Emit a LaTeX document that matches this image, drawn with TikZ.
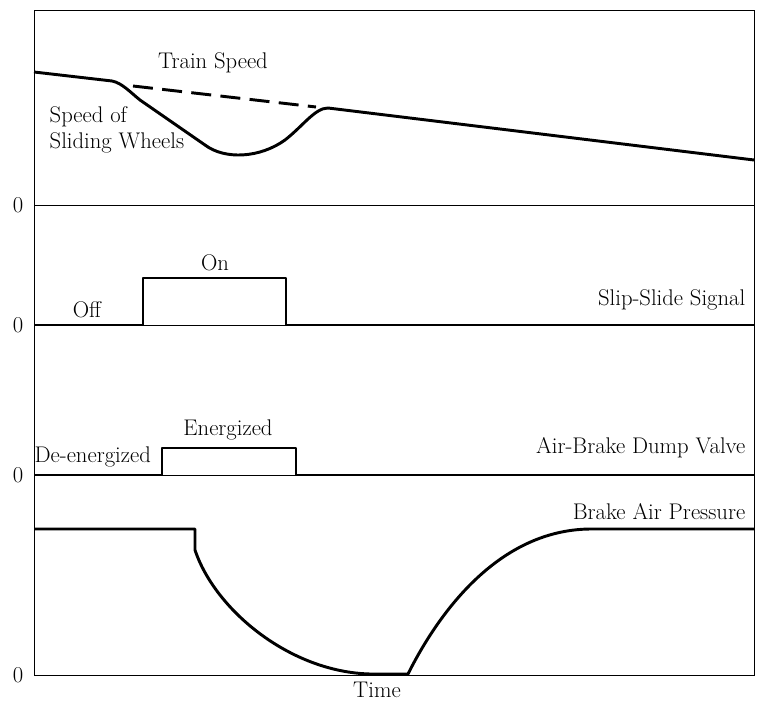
\documentclass[tikz,border=0pt]{standalone}
\usepackage{tikz}
\usetikzlibrary{positioning}

\begin{document}
\begin{tikzpicture}[x=0.75pt,y=-0.75pt,font=\fontsize{17}{19}\selectfont]
\useasboundingbox (0,0) rectangle (758,703);
\tikzset{frame/.style={semithick}, curve/.style={line width=2.2pt, line join=round}}
% frame and panel dividers
\coordinate (TL) at (34,10);
\coordinate (BR) at (754,675);
\draw[frame] (TL) rectangle (BR);
\foreach \y in {205,325,475} \draw[frame] (34,\y) -- (754,\y);
\foreach \y/\n in {205/a,325/b,475/c,675/d} \node (zero\n) at (18,\y) {0};
% speeds
\draw[curve] (34,72) -- (112,81) .. controls (122,83) and (130,92) .. (140,100) -- (205,145)
  .. controls (225,160) and (260,158) .. (285,140) .. controls (303,126) and (315,108) .. (328,108) -- (754,160);
\draw[curve, dash pattern=on 15pt off 7pt] (133,86) -- (316,107);
\node (train) at (213,63) {Train Speed};
\node[align=left, anchor=west] (wheels) at (45,130) {Speed of\\Sliding Wheels};
% slip-slide signal
\draw[curve] (34,325) -- (143,325) -- (143,278) -- (286,278) -- (286,325) -- (754,325);
\node (on) at (215,263) {On};
\node (off) at (87,310) {Off};
\node[anchor=east] (slip) at (750,300) {Slip-Slide Signal};
% dump valve
\draw[curve] (34,475) -- (162,475) -- (162,448) -- (296,448) -- (296,475) -- (754,475);
\node (energ) at (228,430) {Energized};
\node[anchor=west] (deen) at (30,457) {De-energized};
\node[anchor=east] (dump) at (750,448) {Air-Brake Dump Valve};
% brake air pressure
\draw[curve] (34,529) -- (195,529) -- (195,550) .. controls (215,610) and (290,672) .. (370,674) -- (408,674)
  .. controls (440,610) and (500,530) .. (590,529) -- (754,529);
\node[anchor=east] (press) at (750,512) {Brake Air Pressure};
\node (time) at (377,690) {Time};
\end{tikzpicture}
\end{document}
